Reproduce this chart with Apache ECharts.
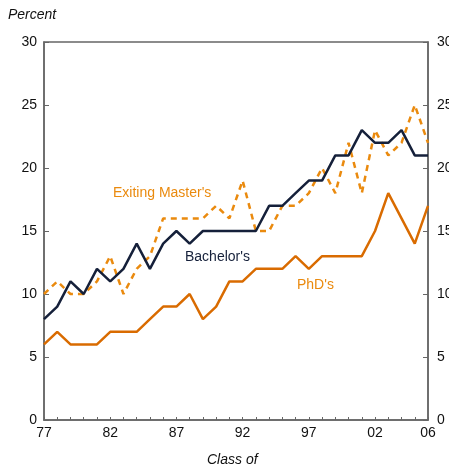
<!DOCTYPE html>
<html>
<head>
<meta charset="utf-8">
<script src="https://cdn.jsdelivr.net/npm/echarts@6/dist/echarts.min.js"></script>
<style>
  html, body { margin: 0; padding: 0; background: #fff; }
  #chart { width: 449px; height: 472px; }
</style>
</head>
<body>
<div id="chart"></div>
<script>
// class years 1977 - 2006
var years = ['77', '78', '79', '80', '81', '82', '83', '84', '85', '86',
  '87', '88', '89', '90', '91', '92', '93', '94', '95', '96',
  '97', '98', '99', '00', '01', '02', '03', '04', '05', '06']
var bachelors = [8, 9, 11, 10, 12, 11, 12, 14, 12, 14,
  15, 14, 15, 15, 15, 15, 15, 17, 17, 18,
  19, 19, 21, 21, 23, 22, 22, 23, 21, 21]
var exitingMasters = [10, 11, 10, 10, 11, 13, 10, 12, 13, 16,
  16, 16, 16, 17, 16, 19, 15, 15, 17, 17,
  18, 20, 18, 22, 18, 23, 21, 22, 25, 22]
var phds = [6, 7, 6, 6, 6, 7, 7, 7, 8, 9,
  9, 10, 8, 9, 11, 11, 12, 12, 12, 13,
  12, 13, 13, 13, 13, 15, 18, 16, 14, 17]

var navy = '#15203a'
var orange = '#d96b00'
var lightOrange = '#ea8a0e'
var axisGray = '#666'
var font = 'Liberation Sans, Arial, sans-serif'

var chart = echarts.init(document.getElementById('chart'))

// y axis shared settings (left and right are mirrors)
function yAxis (side) {
  return {
    type: 'value',
    position: side,
    min: 0,
    max: 30,
    interval: 5,
    axisLine: { show: true, lineStyle: { color: axisGray, width: 1.5 } },
    axisTick: { show: true, inside: true, length: 5, lineStyle: { color: axisGray } },
    axisLabel: { color: '#111', fontSize: 14, fontFamily: font, margin: side === 'left' ? 7 : 9 },
    splitLine: { show: false }
  }
}

chart.setOption({
  animation: false,
  grid: {
    left: 44,
    right: 21,
    top: 42,
    bottom: 52,
    outerBoundsMode: 'none', // keep plot fixed, right labels get clipped like the original
    show: true,
    borderColor: axisGray,
    borderWidth: 1.5
  },
  xAxis: {
    type: 'category',
    data: years,
    boundaryGap: false,
    axisLine: { show: true, lineStyle: { color: axisGray, width: 1.5 } },
    axisTick: { show: true, inside: true, length: 3, interval: 0, lineStyle: { color: axisGray } },
    axisLabel: {
      color: '#111',
      fontSize: 14,
      fontFamily: font,
      margin: 6,
      interval: function (i) { return i % 5 === 0 || i === years.length - 1 }
    }
  },
  yAxis: [yAxis('left'), yAxis('right')],
  series: [
    {
      name: "Bachelor's",
      type: 'line',
      data: bachelors,
      symbol: 'none',
      lineStyle: { color: navy, width: 2.5 },
      z: 3
    },
    {
      name: "Exiting Master's",
      type: 'line',
      data: exitingMasters,
      symbol: 'none',
      lineStyle: { color: lightOrange, width: 2.5, type: [6, 5] },
      z: 2
    },
    {
      name: "PhD's",
      type: 'line',
      data: phds,
      symbol: 'none',
      lineStyle: { color: orange, width: 2.5 },
      z: 2
    }
  ],
  graphic: [
    { type: 'text', left: 8, top: 8, style: { text: 'Percent', font: 'italic 14px ' + font, fill: '#111' } },
    { type: 'text', left: 207, top: 453, style: { text: 'Class of', font: 'italic 14px ' + font, fill: '#111' } },
    { type: 'text', left: 113, top: 186, style: { text: "Exiting Master's", font: '14px ' + font, fill: lightOrange } },
    { type: 'text', left: 185, top: 250, style: { text: "Bachelor's", font: '14px ' + font, fill: navy } },
    { type: 'text', left: 297, top: 278, style: { text: "PhD's", font: '14px ' + font, fill: lightOrange } }
  ]
})
</script>
</body>
</html>
